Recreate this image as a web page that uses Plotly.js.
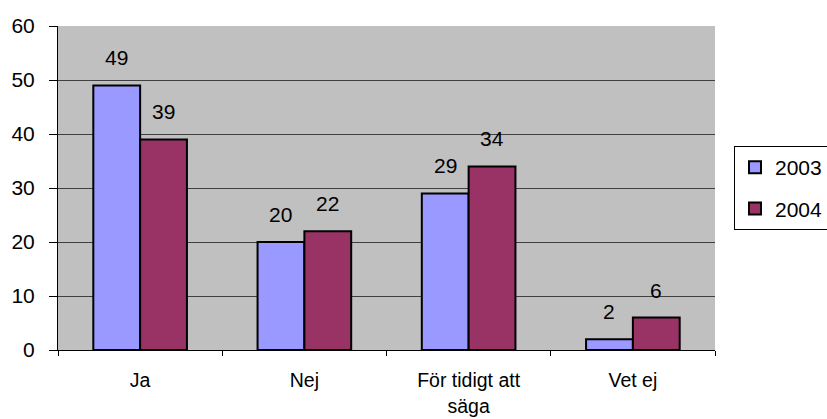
<!DOCTYPE html>
<html><head><meta charset="utf-8">
<script src="https://cdn.plot.ly/plotly-3.0.1.min.js"></script>
<style>body{margin:0;background:#fff}#c{width:827px;height:419px}</style>
</head><body><div id="c"></div>
<script>
const categories = ['Ja', 'Nej', 'För tidigt att<br>säga', 'Vet ej'];
const series2003 = [49, 20, 29, 2];
const series2004 = [39, 22, 34, 6];
const seriesNames = ['2003', '2004'];
const colors = ['#9999FF', '#993366'];

const traces = [series2003, series2004].map((vals, i) => ({
  type: 'bar', x: categories, y: vals, name: seriesNames[i],
  legendgroup: seriesNames[i],
  marker: {color: colors[i], line: {color: '#000', width: 2}},
  hoverinfo: 'none'
}));

const annotations = [];
[series2003, series2004].forEach((vals, i) => {
  vals.forEach((v, j) => {
    annotations.push({x: categories[j], y: v, xref: 'x', yref: 'y', text: String(v),
      showarrow: false, xshift: i === 0 ? -23.5 : 23.5, yshift: 14, yanchor: 'bottom',
      font: {family: 'Liberation Sans, Arial', size: 21, color: '#000'}});
  });
});

const layout = {
  width: 827, height: 419,
  margin: {l: 58, r: 112, t: 26, b: 69, autoexpand: false},
  paper_bgcolor: '#fff', plot_bgcolor: '#C0C0C0',
  font: {family: 'Liberation Sans, Arial', color: '#000'},
  barmode: 'group', bargap: 0.43, bargroupgap: 0,
  showlegend: true,
  legend: {x: 1, xanchor: 'left', y: 0.5, yanchor: 'middle', xref: 'paper',
    bgcolor: '#fff', bordercolor: '#000', borderwidth: 1, itemwidth: 30,
    font: {size: 21}, tracegroupgap: 11, traceorder: 'grouped'},
  xaxis: {type: 'category', showgrid: false, zeroline: false, showline: true, linecolor: '#000',
    ticks: 'outside', tickson: 'boundaries', ticklen: 5, tickcolor: '#000',
    tickfont: {size: 19.5}, ticklabelstandoff: 13, fixedrange: true},
  yaxis: {range: [0, 60], dtick: 10, showgrid: true, gridcolor: '#404040', gridwidth: 1,
    zeroline: false, showline: true, linecolor: '#000', mirror: false,
    ticks: 'outside', ticklen: 8, tickcolor: '#000', tickfont: {size: 21},
    ticklabelstandoff: 10, fixedrange: true},
  annotations: annotations
};
layout.legend.x = (734 - 58) / (827 - 58 - 112);
Plotly.newPlot('c', traces, layout, {displayModeBar: false, staticPlot: true});
</script></body></html>
